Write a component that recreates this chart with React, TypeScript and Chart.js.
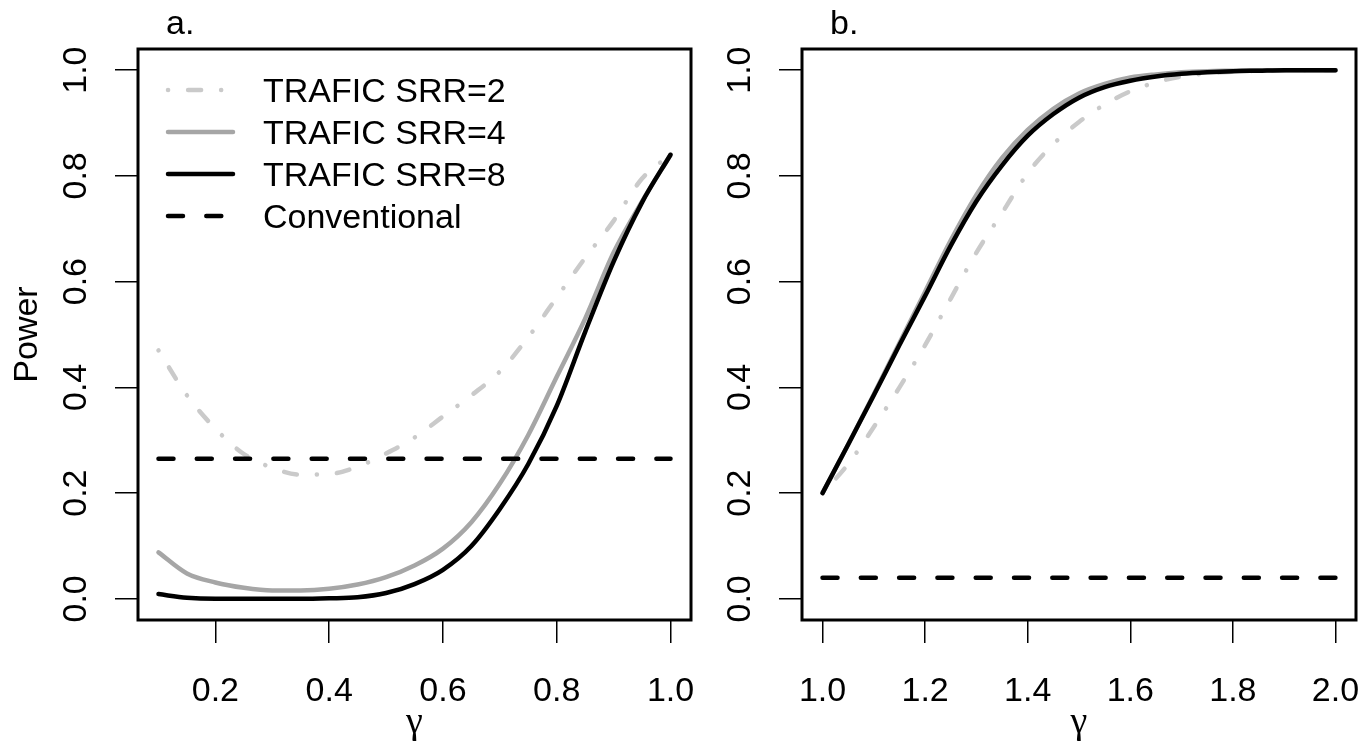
import { useEffect, useRef } from 'react';
import { Chart, registerables } from 'chart.js';
Chart.register(...registerables);

// ---- data (panel a) ----
const gammaA = [0.10, 0.15, 0.20, 0.25, 0.30, 0.35, 0.40, 0.45, 0.50, 0.55, 0.60, 0.65, 0.70, 0.75, 0.80, 0.85, 0.90, 0.95, 1.00];
const srr2A = [0.470, 0.385, 0.322, 0.274, 0.248, 0.235, 0.236, 0.250, 0.275, 0.305, 0.345, 0.385, 0.430, 0.495, 0.570, 0.645, 0.715, 0.795, 0.840];
const srr4A = [0.088, 0.048, 0.031, 0.021, 0.016, 0.016, 0.019, 0.027, 0.041, 0.063, 0.095, 0.145, 0.218, 0.310, 0.420, 0.530, 0.655, 0.752, 0.840];
const srr8A = [0.009, 0.002, 0.000, 0.000, 0.000, 0.000, 0.001, 0.003, 0.011, 0.028, 0.055, 0.100, 0.170, 0.255, 0.365, 0.505, 0.638, 0.750, 0.840];
const convGammaA = [0.10, 1.00];
const convA = [0.265, 0.265];

// ---- data (panel b) ----
const gammaB = [1.00, 1.05, 1.10, 1.15, 1.20, 1.25, 1.30, 1.35, 1.40, 1.45, 1.50, 1.55, 1.60, 1.65, 1.70, 1.75, 1.80, 1.85, 1.90, 1.95, 2.00];
const srr2B = [0.200, 0.255, 0.325, 0.400, 0.480, 0.568, 0.655, 0.730, 0.805, 0.860, 0.902, 0.935, 0.960, 0.977, 0.988, 0.994, 0.997, 0.999, 1.000, 1.000, 1.000];
const srr4B = [0.200, 0.292, 0.387, 0.484, 0.581, 0.678, 0.764, 0.834, 0.887, 0.927, 0.956, 0.974, 0.986, 0.992, 0.996, 0.998, 0.999, 1.000, 1.000, 1.000, 1.000];
const srr8B = [0.200, 0.292, 0.385, 0.480, 0.573, 0.668, 0.752, 0.820, 0.876, 0.917, 0.948, 0.968, 0.980, 0.988, 0.993, 0.996, 0.998, 0.999, 1.000, 1.000, 1.000];
const convGammaB = [1.00, 2.00];
const convB = [0.040, 0.040];

// ---- ticks / labels ----
const xTicksA = [0.2, 0.4, 0.6, 0.8, 1.0];
const xTicksB = [1.0, 1.2, 1.4, 1.6, 1.8, 2.0];
const yTicks = [0.0, 0.2, 0.4, 0.6, 0.8, 1.0];
const seriesLabels = ['TRAFIC SRR=2', 'TRAFIC SRR=4', 'TRAFIC SRR=8', 'Conventional'];
const xTitle = 'γ';
const yTitle = 'Power';

const SANS = '"Liberation Sans", Arial, Helvetica, sans-serif';
const SERIF = '"Liberation Serif", "Times New Roman", serif';
const C_LIGHT = '#CACACA';
const C_MID = '#A6A6A6';
const C_BLACK = '#000000';

function pts(xs: number[], ys: number[]) {
  return xs.map((x, i) => ({ x, y: ys[i] }));
}

function makeDatasets(g: number[], s2: number[], s4: number[], s8: number[], cg: number[], c: number[]) {
  const common = {
    pointRadius: 0,
    borderWidth: 4.5,
    borderCapStyle: 'round',
    borderJoinStyle: 'round',
    cubicInterpolationMode: 'monotone',
    fill: false,
  };
  return [
    { ...common, label: seriesLabels[0], data: pts(g, s2), borderColor: C_LIGHT, borderDash: [0.1, 20, 13, 20], order: 4 },
    { ...common, label: seriesLabels[1], data: pts(g, s4), borderColor: C_MID, order: 3 },
    { ...common, label: seriesLabels[2], data: pts(g, s8), borderColor: C_BLACK, order: 2 },
    { ...common, label: seriesLabels[3], data: pts(cg, c), borderColor: C_BLACK, borderDash: [15, 23.3], order: 1 },
  ];
}

function rPlugin(cfg: { title: string; legend: boolean; yLabel: boolean }) {
  return {
    id: 'rstyle',
    afterDraw(chart: any) {
      const { ctx, chartArea: a, scales } = chart;
      const xs = scales.x;
      const ys = scales.y;
      ctx.save();
      ctx.strokeStyle = '#000';
      ctx.lineWidth = 3;
      ctx.strokeRect(a.left, a.top, a.right - a.left, a.bottom - a.top);
      ctx.fillStyle = '#000';
      ctx.font = `34px ${SANS}`;
      ctx.textAlign = 'center';
      ctx.textBaseline = 'alphabetic';
      xs.ticks.forEach((t: any) => {
        ctx.fillText(Number(t.value).toFixed(1), xs.getPixelForValue(t.value), a.bottom + 81);
      });
      ys.ticks.forEach((t: any) => {
        ctx.save();
        ctx.translate(a.left - 52, ys.getPixelForValue(t.value));
        ctx.rotate(-Math.PI / 2);
        ctx.fillText(Number(t.value).toFixed(1), 0, 0);
        ctx.restore();
      });
      if (cfg.yLabel) {
        ctx.save();
        ctx.translate(37, (a.top + a.bottom) / 2);
        ctx.rotate(-Math.PI / 2);
        ctx.fillText(yTitle, 0, 0);
        ctx.restore();
      }
      ctx.textAlign = 'left';
      ctx.fillText(cfg.title, a.left + 28, 34);
      if (cfg.legend) {
        chart.data.datasets.forEach((ds: any, i: number) => {
          const y = 90 + i * 42;
          ctx.save();
          ctx.strokeStyle = ds.borderColor;
          ctx.lineWidth = ds.borderWidth;
          ctx.lineCap = 'round';
          ctx.setLineDash(ds.borderDash || []);
          ctx.beginPath();
          ctx.moveTo(a.left + 30, y);
          ctx.lineTo(a.left + 95, y);
          ctx.stroke();
          ctx.restore();
          ctx.fillText(ds.label, a.left + 125, y + 12);
        });
      }
      ctx.font = `38px ${SERIF}`;
      ctx.textAlign = 'center';
      ctx.fillText(xTitle, (a.left + a.right) / 2, a.bottom + 113);
      ctx.restore();
    },
  };
}

function makeConfig(opts: {
  datasets: any[];
  xMin: number;
  xMax: number;
  xTicks: number[];
  yWidth: number;
  padRight: number;
  title: string;
  legend: boolean;
  yLabel: boolean;
}) {
  return {
    type: 'line',
    data: { datasets: opts.datasets },
    options: {
      animation: false,
      responsive: false,
      maintainAspectRatio: false,
      events: [],
      layout: { padding: { left: 0, right: opts.padRight, top: 49, bottom: 0 } },
      plugins: { legend: { display: false }, tooltip: { enabled: false }, title: { display: false } },
      scales: {
        x: {
          type: 'linear',
          min: opts.xMin,
          max: opts.xMax,
          afterBuildTicks: (s: any) => { s.ticks = opts.xTicks.map((v) => ({ value: v })); },
          afterFit: (s: any) => { s.height = 129; },
          ticks: { display: false },
          border: { display: false },
          grid: { drawOnChartArea: false, drawTicks: true, tickLength: 23, color: '#000', lineWidth: 1.5 },
        },
        y: {
          type: 'linear',
          min: -0.04,
          max: 1.04,
          afterBuildTicks: (s: any) => { s.ticks = yTicks.map((v) => ({ value: v })); },
          afterFit: (s: any) => { s.width = opts.yWidth; },
          ticks: { display: false },
          border: { display: false },
          grid: { drawOnChartArea: false, drawTicks: true, tickLength: 23, color: '#000', lineWidth: 1.5 },
        },
      },
    },
    plugins: [rPlugin({ title: opts.title, legend: opts.legend, yLabel: opts.yLabel })],
  };
}

export default function App() {
  const refA = useRef<HTMLCanvasElement | null>(null);
  const refB = useRef<HTMLCanvasElement | null>(null);

  useEffect(() => {
    const chartA = new Chart(refA.current as HTMLCanvasElement, makeConfig({
      datasets: makeDatasets(gammaA, srr2A, srr4A, srr8A, convGammaA, convA),
      xMin: 0.064,
      xMax: 1.036,
      xTicks: xTicksA,
      yWidth: 138,
      padRight: 9,
      title: 'a.',
      legend: true,
      yLabel: true,
    }) as any);
    const chartB = new Chart(refB.current as HTMLCanvasElement, makeConfig({
      datasets: makeDatasets(gammaB, srr2B, srr4B, srr8B, convGammaB, convB),
      xMin: 0.96,
      xMax: 2.04,
      xTicks: xTicksB,
      yWidth: 102,
      padRight: 15,
      title: 'b.',
      legend: false,
      yLabel: false,
    }) as any);
    return () => {
      chartA.destroy();
      chartB.destroy();
    };
  }, []);

  return (
    <div style={{ position: 'fixed', left: 0, top: 0, width: 1371, height: 749, background: '#fff' }}>
      <canvas ref={refA} width={700} height={749} style={{ position: 'absolute', left: 0, top: 0, width: 700, height: 749 }} />
      <canvas ref={refB} width={671} height={749} style={{ position: 'absolute', left: 700, top: 0, width: 671, height: 749 }} />
    </div>
  );
}
